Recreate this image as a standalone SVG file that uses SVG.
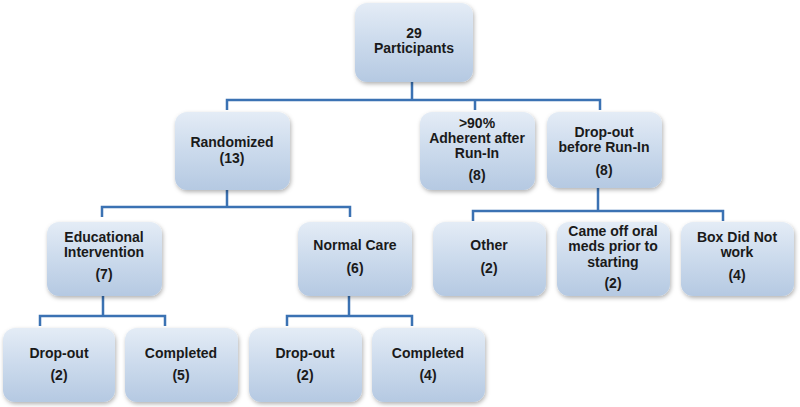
<svg xmlns="http://www.w3.org/2000/svg" width="800" height="407" viewBox="0 0 800 407">
<defs>
<linearGradient id="g" x1="0" y1="0" x2="0" y2="1">
<stop offset="0" stop-color="#e4ecf6"/>
<stop offset="0.5" stop-color="#cbdaec"/>
<stop offset="1" stop-color="#b5c9e2"/>
</linearGradient>
<filter id="sh" x="-10%" y="-10%" width="125%" height="130%">
<feDropShadow dx="1" dy="2" stdDeviation="2" flood-color="#000" flood-opacity="0.3"/>
</filter>
</defs>
<style>
rect.b{fill:url(#g);filter:url(#sh)}
text{font-family:"Liberation Sans",Arial,sans-serif;font-weight:bold;font-size:14px;fill:#1a1a1a;text-anchor:middle}
.c{fill:none;stroke:#3b72b3;stroke-width:2.5}
</style>
<g id="connectors">
<path class="c" d="M412 82V100M227 110V100H600V110M475 100V110"/>
<path class="c" d="M227 190V207M102 217V207H350V217"/>
<path class="c" d="M598 188V211M473 221V211H723V221"/>
<path class="c" d="M103 295V316M40 326V316H165V326"/>
<path class="c" d="M349 295V316M287 326V316H412V326"/>
</g>
<g id="n_participants"><rect class="b" x="355" y="3" width="118" height="79" rx="12"/><text x="414" y="38">29</text><text x="414" y="53">Participants</text></g>
<g id="n_randomized"><rect class="b" x="175" y="112" width="115" height="78" rx="12"/><text x="232" y="147">Randomized</text><text x="232" y="163">(13)</text></g>
<g id="n_adherent"><rect class="b" x="420" y="112" width="115" height="78" rx="12"/><text x="477" y="128">&gt;90%</text><text x="477" y="143">Adherent after</text><text x="477" y="158">Run-In</text><text x="477" y="180">(8)</text></g>
<g id="n_dropbefore"><rect class="b" x="547" y="112" width="115" height="76" rx="12"/><text x="604" y="137">Drop-out</text><text x="604" y="152">before Run-In</text><text x="604" y="175">(8)</text></g>
<g id="n_edu"><rect class="b" x="47" y="222" width="115" height="74" rx="12"/><text x="104" y="242">Educational</text><text x="104" y="257">Intervention</text><text x="104" y="279">(7)</text></g>
<g id="n_normal"><rect class="b" x="298" y="222" width="114" height="74" rx="12"/><text x="355" y="250">Normal Care</text><text x="355" y="273">(6)</text></g>
<g id="n_other"><rect class="b" x="433" y="222" width="113" height="74" rx="12"/><text x="489" y="250">Other</text><text x="489" y="273">(2)</text></g>
<g id="n_cameoff"><rect class="b" x="557" y="222" width="113" height="74" rx="12"/><text x="613" y="236">Came off oral</text><text x="613" y="251">meds prior to</text><text x="613" y="267">starting</text><text x="613" y="288">(2)</text></g>
<g id="n_box"><rect class="b" x="681" y="222" width="113" height="74" rx="12"/><text x="737" y="242">Box Did Not</text><text x="737" y="257">work</text><text x="737" y="280">(4)</text></g>
<g id="n_drop1"><rect class="b" x="3" y="328" width="112" height="74" rx="12"/><text x="59" y="358">Drop-out</text><text x="59" y="380">(2)</text></g>
<g id="n_comp1"><rect class="b" x="125" y="328" width="113" height="74" rx="12"/><text x="181" y="358">Completed</text><text x="181" y="380">(5)</text></g>
<g id="n_drop2"><rect class="b" x="249" y="328" width="113" height="74" rx="12"/><text x="305" y="358">Drop-out</text><text x="305" y="380">(2)</text></g>
<g id="n_comp2"><rect class="b" x="372" y="328" width="113" height="74" rx="12"/><text x="428" y="358">Completed</text><text x="428" y="380">(4)</text></g>
</svg>
